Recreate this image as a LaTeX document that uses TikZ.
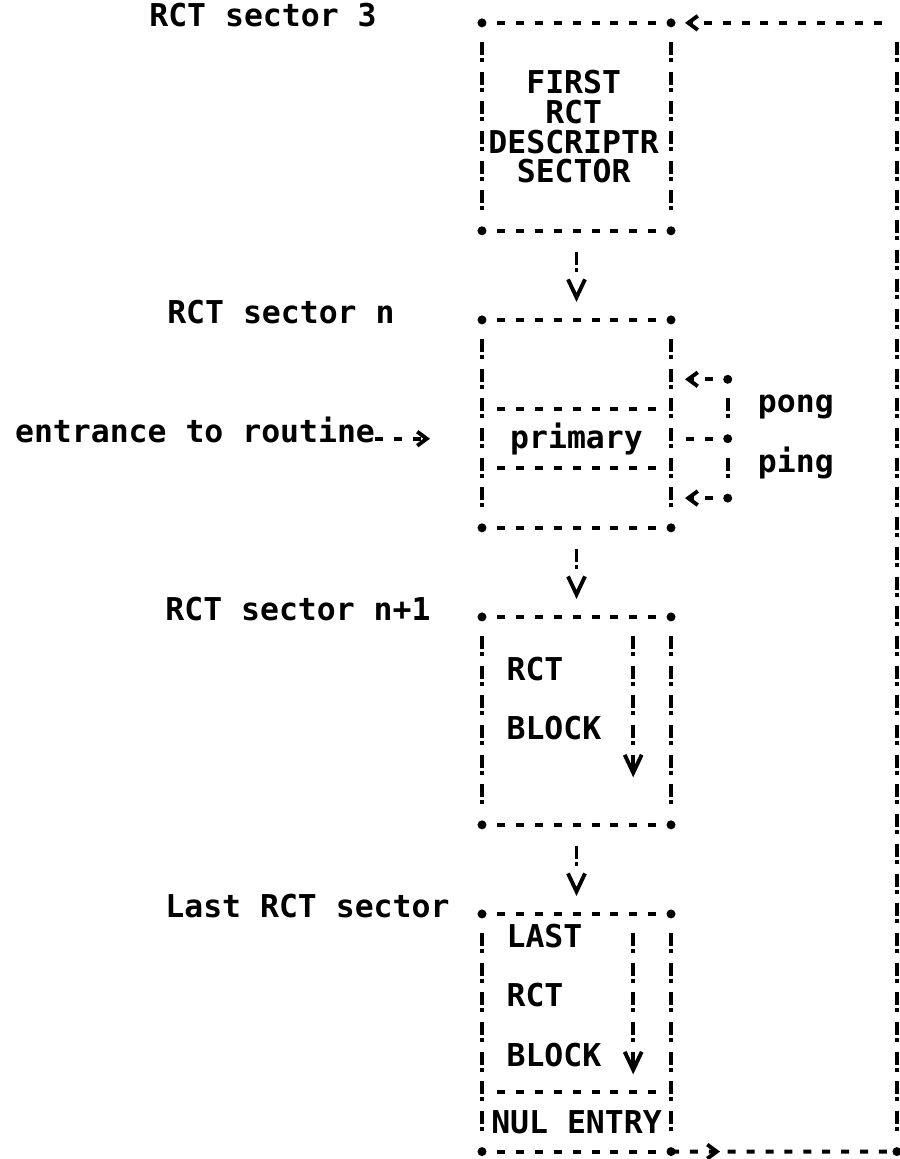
\documentclass[tikz,border=0pt]{standalone}
\usepackage{fontspec}
\setmonofont{DejaVu Sans Mono}
\usetikzlibrary{arrows.meta,decorations.markings}

\tikzset{
  every node/.style={font=\ttfamily\bfseries\fontsize{17.9pt}{16.9pt}\selectfont,
    inner sep=0pt, outer sep=0pt},
  lbl/.style={anchor=mid west},
  hline/.style={line width=2.2pt, dash pattern=on 1.6mm off 2.18mm},
  vline/.style={line width=2.2pt, dash pattern=on 2.6mm off 0.6mm on 0.8mm off 1.94mm},
  hedge/.style={hline, shorten <=3mm, shorten >=1mm},
  vedge/.style={vline, shorten <=3.8mm, shorten >=2.2mm},
  vtip/.style={-{Straight Barb[length=3.6mm,width=3.4mm]}},
  ltip/.style={-{Straight Barb[length=1.9mm,width=2.8mm]}},
  vflow/.style={line width=2.2pt, dash pattern=on 2.6mm off 0.6mm on 0.8mm off 6mm, vtip},
  sector/.style={minimum width=37.8mm, minimum height=41.58mm},
  cell/.style={minimum width=37.8mm, minimum height=11.88mm},
  midarr/.style={postaction={decorate}, decoration={markings,
    mark=at position 9.8mm with {\arrow{Straight Barb[length=1.9mm,width=2.8mm]}}}}
}

\begin{document}
\begin{tikzpicture}[x=3.78mm, y=-5.94mm]
  \useasboundingbox (-25.5,-0.77) rectangle (22.07,38.25);

  % sectors of the RCT
  \node[sector] (b1) at (5,3.5) {};
  \node[sector] (b2) at (5,13.5) {};
  \node[sector] (b3) at (5,23.5) {};
  \node[sector, minimum height=47.52mm] (b4) at (5,34) {};
  \foreach \b in {b1,b2,b3,b4} {
    \draw[hedge] (\b.north west) -- (\b.north east);
    \draw[hedge] (\b.south west) -- (\b.south east);
    \draw[vedge] (\b.north west) -- (\b.south west);
    \draw[vedge] (\b.north east) -- (\b.south east);
    \foreach \a in {north west,north east,south west,south east}
      \fill (\b.\a) circle (0.9mm);
  }

  % labels on the left
  \node[lbl] (s3) at (-17.6,0) {RCT sector 3};
  \node[lbl] (sn) at (-16.65,10) {RCT sector n};
  \node[lbl] (sn1) at (-16.75,20) {RCT sector n+1};
  \node[lbl] (slast) at (-16.75,30) {Last RCT sector};

  % first sector
  \node[align=center] (first) at (4.85,3.5) {FIRST\\RCT\\DESCRIPTR\\SECTOR};

  % sector n
  \node[cell] (prim) at (5,14) {primary};
  \draw[hedge] (prim.north west) -- (prim.north east);
  \draw[hedge] (prim.south west) -- (prim.south east);
  \node[lbl] (entry) at (-24.7,14) {entrance to routine};
  \draw[hline, ltip, shorten >=10.4mm] (entry.mid east) -- (prim.west);

  \coordinate (ppt) at (13,12);
  \coordinate (ppm) at (13,14);
  \coordinate (ppb) at (13,16);
  \draw[hedge] (prim.east) -- (ppm);
  \draw[vedge] (ppt) -- (ppm);
  \draw[vedge] (ppm) -- (ppb);
  \draw[hline, ltip, shorten <=3mm, shorten >=2.8mm] (ppt) -- (b2.east |- ppt);
  \draw[hline, ltip, shorten <=3mm, shorten >=2.8mm] (ppb) -- (b2.east |- ppb);
  \foreach \p in {ppt,ppm,ppb} \fill (\p) circle (0.9mm);
  \node[lbl] (pong) at (14.6,13) {pong};
  \node[lbl] (ping) at (14.6,15) {ping};

  % sector n+1
  \node[lbl] (rct3) at (1.3,22) {RCT};
  \node[lbl] (blk3) at (1.3,24) {BLOCK};
  \coordinate (a3s) at (8,20.64);
  \coordinate (a3e) at (8,25.4);
  \draw[vline, vtip] (a3s) -- (a3e);

  % last sector
  \node[lbl] (last4) at (1.3,31) {LAST};
  \node[lbl] (rct4) at (1.3,33) {RCT};
  \node[lbl] (blk4) at (1.3,35) {BLOCK};
  \coordinate (a4s) at (8,30.64);
  \coordinate (a4e) at (8,35.4);
  \draw[vline, vtip] (a4s) -- (a4e);
  \node[cell] (nul) at (5,37) {NUL ENTRY};
  \draw[hedge] (nul.north west) -- (nul.north east);

  % chain from sector to sector
  \draw[vflow, shorten <=4.2mm, shorten >=3.6mm] (b1.south) -- (b2.north);
  \draw[vflow, shorten <=4.2mm, shorten >=3.6mm] (b2.south) -- (b3.north);
  \draw[vflow, shorten <=4.2mm, shorten >=3.6mm] (b3.south) -- (b4.north);

  % back to the first sector
  \coordinate (rt) at (21.95,0);
  \coordinate (rb) at (21.95,38);
  \draw[hline, midarr, shorten >=1mm] (b4.south east) -- (rb);
  \draw[vedge] (rt) -- (rb);
  \draw[hline, ltip, shorten <=3mm, shorten >=2.8mm] (rt) -- (b1.north east);
  \fill (rb) circle (0.9mm);
\end{tikzpicture}
\end{document}
